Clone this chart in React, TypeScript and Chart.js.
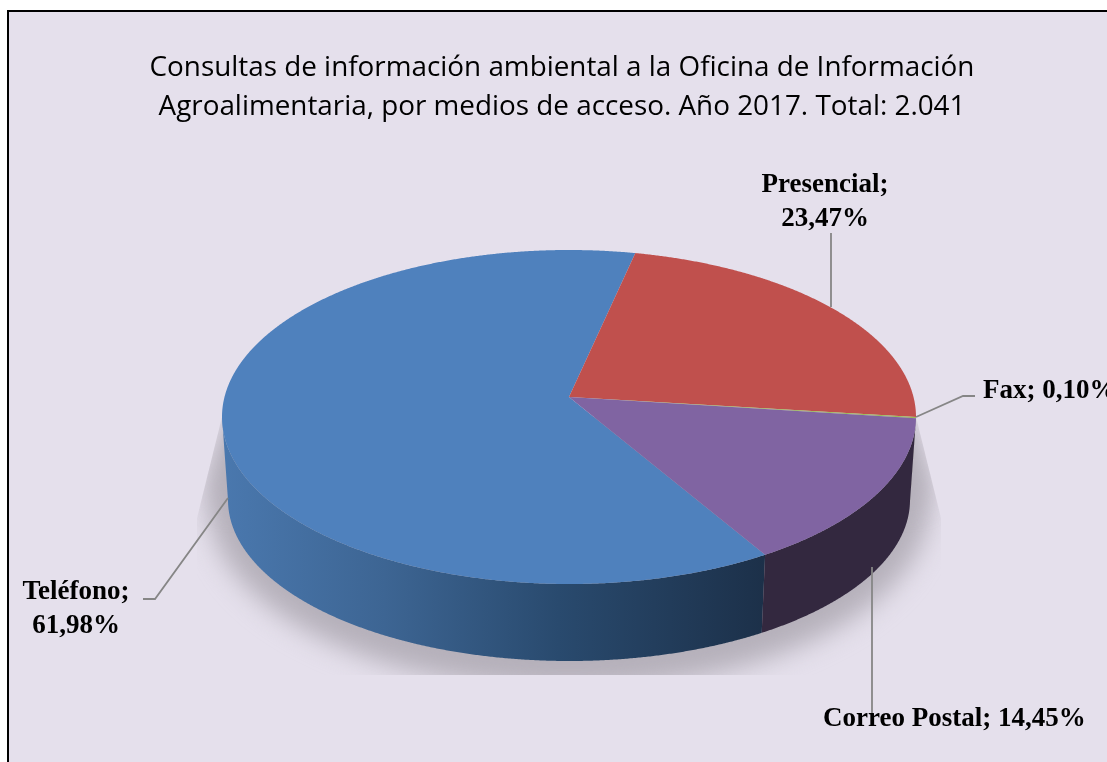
import React, { useEffect, useRef } from "react";
import { Chart, registerables, ArcElement, PieController } from "chart.js";

const categories = ["Teléfono", "Presencial", "Fax", "Correo Postal"];
const shares = [61.98, 23.47, 0.1, 14.45];
const faceColors = ["#4F81BD", "#C0504D", "#9BBB59", "#8064A2"];
const titleLines = [
  "Consultas de información ambiental a la Oficina de Información",
  "Agroalimentaria, por medios de acceso. Año 2017. Total: 2.041",
];

const W = 1107;
const H = 762;
const CENTER_DX = 7; // pie centre sits right of the title's centre
const ASPECT = 347 / 167;
const TILT = 0.12; // perspective shift of the apex, as a share of the short radius
const BASE = { dy: 83, rx: 341 / 167, ry: 161 / 167 };

const WALLS: Record<string, [number, string][]> = {
  "#4F81BD": [
    [0, "#4A78AE"],
    [0.3, "#3D6593"],
    [0.62, "#294A6E"],
    [1, "#1C3049"],
  ],
  "#8064A2": [[0, "#33283F"]],
  "#C0504D": [[0, "#6E2D2B"]],
  "#9BBB59": [[0, "#5A6E33"]],
};

function project(theta: number) {
  const s = Math.sin(theta);
  const c = Math.cos(theta);
  const d = 1 - TILT * s;
  return { u: (c * Math.sqrt(1 - TILT * TILT)) / d, v: (s - TILT) / d };
}

class TiltedArc extends ArcElement {
  static id = "tiltedArc";
  static defaults = ArcElement.defaults;
  draw(ctx: CanvasRenderingContext2D) {
    const { x, y, startAngle, endAngle, outerRadius: R } = this as any;
    const base = (this as any).options.backgroundColor as string;
    const cx = x + CENTER_DX;
    const STEP = Math.PI / 720;
    const front0 = Math.asin(TILT);
    const front1 = Math.PI - front0;

    // side wall of the slice, for the part that faces the viewer
    for (let k = -1; k <= 1; k++) {
      const lo = Math.max(startAngle + k * 2 * Math.PI, front0);
      const hi = Math.min(endAngle + k * 2 * Math.PI, front1);
      if (lo >= hi) continue;
      const top: [number, number][] = [];
      const bottom: [number, number][] = [];
      for (let t = lo; ; t += STEP) {
        const a = Math.min(t, hi);
        const p = project(a);
        top.push([cx + R * ASPECT * p.u, y + R * p.v]);
        bottom.push([cx + R * BASE.rx * p.u, y + BASE.dy + R * BASE.ry * p.v]);
        if (a >= hi) break;
      }
      const stops = WALLS[base] || [[0, base]];
      const grad = ctx.createLinearGradient(cx - R * ASPECT, 0, cx + 196, 0);
      stops.forEach(([o, col]) => grad.addColorStop(o, col));
      ctx.beginPath();
      top.forEach(([a, b], i) => (i ? ctx.lineTo(a, b) : ctx.moveTo(a, b)));
      bottom.reverse().forEach(([a, b]) => ctx.lineTo(a, b));
      ctx.closePath();
      ctx.fillStyle = stops.length > 1 ? grad : stops[0][1];
      ctx.fill();
    }

    // top face of the slice
    ctx.beginPath();
    ctx.moveTo(cx, y - TILT * R);
    for (let t = startAngle; ; t += STEP) {
      const a = Math.min(t, endAngle);
      const p = project(a);
      ctx.lineTo(cx + R * ASPECT * p.u, y + R * p.v);
      if (a >= endAngle) break;
    }
    ctx.closePath();
    ctx.fillStyle = base;
    ctx.fill();
  }
}

class Pie3DController extends PieController {
  static id = "pie3d";
  static defaults = { dataElementType: "tiltedArc" };
  static overrides = PieController.overrides;
}

Chart.register(...registerables, TiltedArc, Pie3DController);

const percent = (v: number) => v.toFixed(2).replace(".", ",") + "%";

const LABEL_FONT = "bold 27px 'Liberation Serif'";
const LEADER = "#868686";

const panelPlugin = {
  id: "panel",
  beforeDraw(chart: any) {
    const c = chart.ctx;
    c.save();
    c.fillStyle = "#FFFFFF";
    c.fillRect(0, 0, W, H);
    c.fillStyle = "#000000";
    c.fillRect(7, 10, W, H);
    c.fillStyle = "#E5E0EC";
    c.fillRect(9, 12, W, H);
    c.restore();
  },
};

const shadowPlugin = {
  id: "floorShadow",
  beforeDatasetsDraw(chart: any) {
    const c = chart.ctx;
    const arc = chart.getDatasetMeta(0).data[0];
    const cx = arc.x + CENTER_DX;
    const R = arc.outerRadius;
    c.save();
    c.beginPath();
    c.moveTo(cx - R * ASPECT, arc.y);
    c.lineTo(197, arc.y + 101);
    c.lineTo(197, 675);
    c.lineTo(941, 675);
    c.lineTo(941, arc.y + 101);
    c.lineTo(cx + R * ASPECT, arc.y);
    c.closePath();
    c.clip();
    c.filter = "blur(13px)";
    c.fillStyle = "#B5B0BA";
    c.beginPath();
    c.ellipse(cx, arc.y + 85, R * ASPECT * 1.04, R * 1.12, 0, 0, Math.PI * 2);
    c.fill();
    c.beginPath();
    c.moveTo(cx - R * ASPECT - 8, arc.y + 85);
    c.lineTo(cx - R * ASPECT + 5, arc.y);
    c.lineTo(cx + R * ASPECT - 5, arc.y);
    c.lineTo(cx + R * ASPECT + 8, arc.y + 85);
    c.closePath();
    c.fill();
    c.restore();
  },
};

const LEADERS: [number, number][][] = [
  [[228, 498], [155, 599], [143, 599]],
  [[831, 307], [831, 233]],
  [[916, 417], [963, 396], [975, 396]],
  [[872, 567], [872, 713]],
];

const LABELS: { lines: (name: string, value: string) => string[]; x: number; y: number; align: CanvasTextAlign }[] = [
  { lines: (n, v) => [n + ";", v], x: 76, y: 592, align: "center" },
  { lines: (n, v) => [n + ";", v], x: 825, y: 185, align: "center" },
  { lines: (n, v) => [n + "; " + v], x: 983, y: 391, align: "left" },
  { lines: (n, v) => [n + "; " + v], x: 823, y: 719, align: "left" },
];

const labelPlugin = {
  id: "pieLabels",
  afterDatasetsDraw(chart: any) {
    const c = chart.ctx;
    c.save();
    c.strokeStyle = LEADER;
    c.lineWidth = 1.8;
    LEADERS.forEach((pts) => {
      c.beginPath();
      pts.forEach(([a, b], i) => (i ? c.lineTo(a, b) : c.moveTo(a, b)));
      c.stroke();
    });
    c.fillStyle = "#000000";
    c.font = LABEL_FONT;
    c.textBaseline = "middle";
    categories.forEach((name, i) => {
      const l = LABELS[i];
      c.textAlign = l.align;
      l.lines(name, percent(shares[i])).forEach((line, j) => c.fillText(line, l.x, l.y + j * 34.5));
    });
    c.restore();
  },
};

export default function App() {
  const ref = useRef<HTMLCanvasElement>(null);
  useEffect(() => {
    const chart = new Chart(ref.current!, {
      type: "pie3d" as any,
      data: {
        labels: categories,
        datasets: [
          {
            data: shares,
            backgroundColor: faceColors,
            borderWidth: 0,
            radius: 167,
            clip: false,
          } as any,
        ],
      },
      options: {
        responsive: false,
        animation: false,
        rotation: 149.3,
        layout: { padding: { left: 17, right: 0, top: 0, bottom: 178 } },
        plugins: {
          legend: { display: false },
          tooltip: { enabled: false },
          title: {
            display: true,
            text: titleLines,
            color: "#000000",
            font: { family: "'Open Sans'", size: 27.85, weight: "normal", lineHeight: 39 / 27.85 },
            padding: { top: 49, bottom: 123 },
          },
        },
      } as any,
      plugins: [panelPlugin, shadowPlugin, labelPlugin],
    });
    return () => chart.destroy();
  }, []);
  return (
    <div style={{ position: "fixed", left: 0, top: 0, width: W, height: H, overflow: "hidden" }}>
      <canvas ref={ref} width={W} height={H} style={{ display: "block" }} />
    </div>
  );
}
